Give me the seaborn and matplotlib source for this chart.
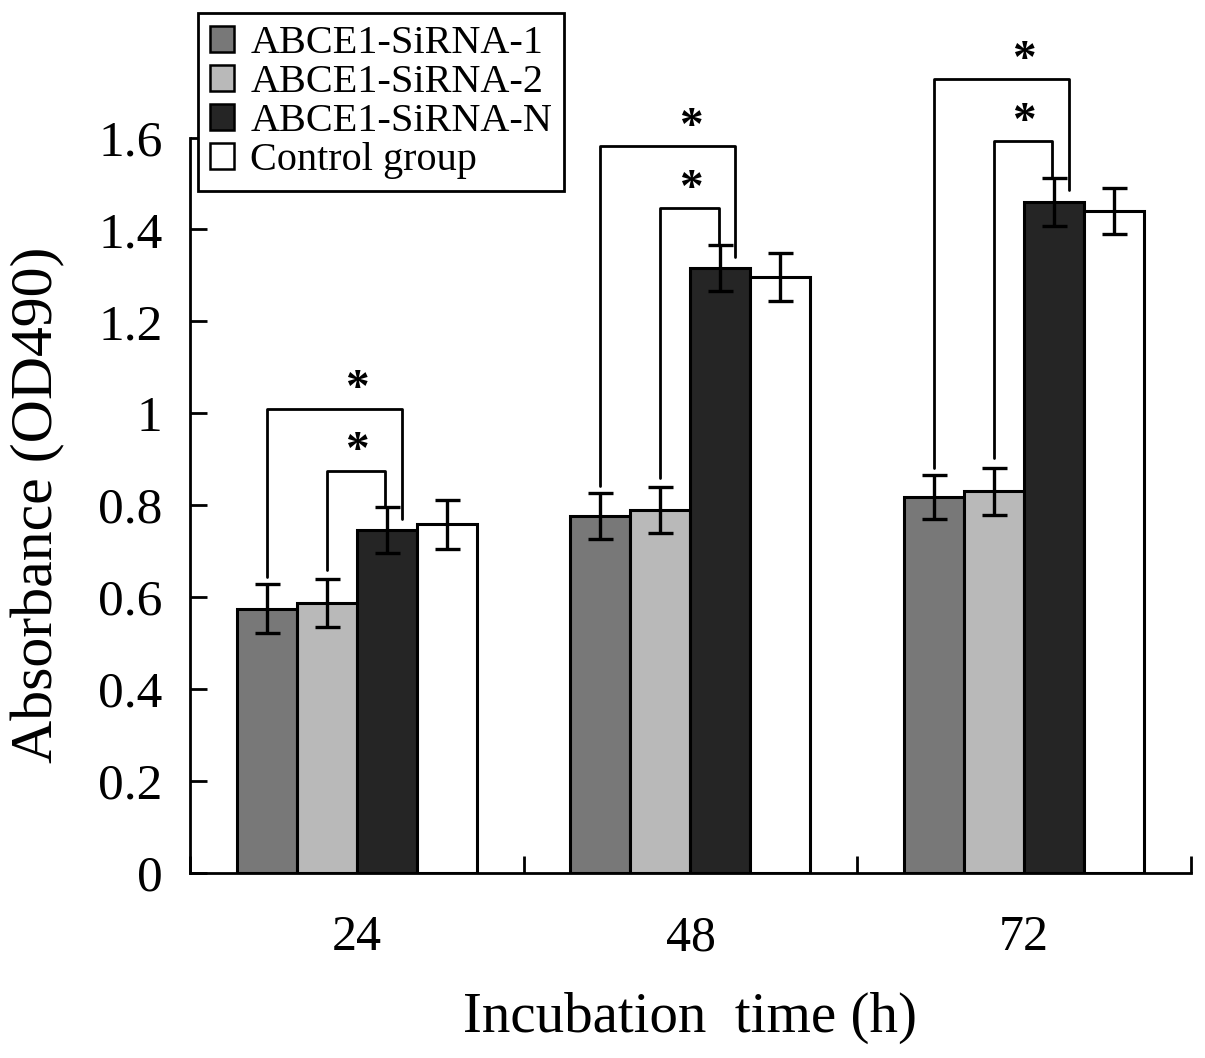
import matplotlib
matplotlib.use('Agg')
import matplotlib.pyplot as plt
from matplotlib.patches import Patch
from matplotlib.ticker import FuncFormatter
import seaborn as sns
import pandas as pd

# Andmed (loetud pildilt)
times = ['24', '48', '72']
groups = ['ABCE1-SiRNA-1', 'ABCE1-SiRNA-2', 'ABCE1-SiRNA-N', 'Control group']
sirna1 = [0.575, 0.777, 0.818]
sirna2 = [0.588, 0.790, 0.830]
sirna_n = [0.745, 1.316, 1.460]
control = [0.758, 1.296, 1.441]
sirna1_err = [0.053, 0.050, 0.048]
sirna2_err = [0.052, 0.050, 0.052]
sirna_n_err = [0.050, 0.050, 0.052]
control_err = [0.053, 0.052, 0.050]
colors = ['#787878', '#b9b9b9', '#252525', '#ffffff']

values = [sirna1, sirna2, sirna_n, control]
errors = [sirna1_err, sirna2_err, sirna_n_err, control_err]

rows = []
for g, vals in zip(groups, values):
    for t, v in zip(times, vals):
        rows.append({'time': t, 'group': g, 'od': v})
df = pd.DataFrame(rows)

sns.set_style('ticks')
plt.rcParams['font.family'] = ['Liberation Serif', 'DejaVu Serif']
plt.rcParams['text.color'] = 'black'
plt.rcParams['axes.labelcolor'] = 'black'
plt.rcParams['xtick.color'] = 'black'
plt.rcParams['ytick.color'] = 'black'

fig = plt.figure(figsize=(12.05, 10.58), dpi=100)
ax = fig.add_axes([0.158, 0.175, 0.830, 0.695])

sns.barplot(data=df, x='time', y='od', hue='group', hue_order=groups,
            order=times, palette=colors, saturation=1, width=0.72,
            edgecolor='black', linewidth=2.2, errorbar=None, legend=False, ax=ax)

# veapiirid
centers = []
for cont, errs in zip(ax.containers, errors):
    xs = [b.get_x() + b.get_width() / 2 for b in cont]
    hs = [b.get_height() for b in cont]
    ax.errorbar(xs, hs, yerr=errs, fmt='none', ecolor='black',
                elinewidth=2.4, capsize=9, capthick=2.4, zorder=5)
    centers.append((xs, hs, cont[0].get_width()))

# tärnid ja sulud
lw = 2.0
for i in range(len(times)):
    x1, x2, x3 = centers[0][0][i], centers[1][0][i], centers[2][0][i]
    bw = centers[2][2]
    top1 = sirna1[i] + sirna1_err[i]
    top2 = sirna2[i] + sirna2_err[i]
    top3 = sirna_n[i] + sirna_n_err[i]
    outer = top3 + 0.215
    inner = top3 + 0.08
    ax.plot([x1, x1, x3 + 0.25 * bw, x3 + 0.25 * bw],
            [top1 + 0.015, outer, outer, sirna_n[i] + 0.5 * sirna_n_err[i]],
            color='black', lw=lw, clip_on=False, zorder=6)
    ax.plot([x2, x2, x3 - 0.03 * bw, x3 - 0.03 * bw],
            [top2 + 0.02, inner, inner, top3],
            color='black', lw=lw, clip_on=False, zorder=6)
    ax.text(i, outer + 0.04, '*', ha='center', va='center', fontsize=34,
            fontweight='bold', clip_on=False)
    ax.text(i, inner + 0.04, '*', ha='center', va='center', fontsize=34,
            fontweight='bold', clip_on=False)

ax.set_ylim(0, 1.6)
ax.set_xlim(-0.5, 2.5)
ax.set_yticks([0, 0.2, 0.4, 0.6, 0.8, 1.0, 1.2, 1.4, 1.6])
ax.yaxis.set_major_formatter(FuncFormatter(lambda v, p: '%g' % v))
ax.set_xticks([-0.5, 0.5, 1.5, 2.5], minor=True)
ax.tick_params(axis='x', which='major', length=0, pad=30, labelsize=36)
ax.tick_params(axis='x', which='minor', direction='in', length=12, width=2)
ax.tick_params(axis='y', direction='in', length=12, width=2, pad=20,
               labelsize=37)

sns.despine(ax=ax)
ax.spines['left'].set_linewidth(2)
ax.spines['bottom'].set_linewidth(2)
ax.spines['left'].set_color('black')
ax.spines['bottom'].set_color('black')

ax.set_xlabel('Incubation  time (h)', fontsize=41, labelpad=22)
ax.set_ylabel('Absorbance (OD490)', fontsize=43, labelpad=24)

handles = [Patch(facecolor=c, edgecolor='black', linewidth=1.8) for c in colors]
leg = fig.legend(handles, groups, loc='upper left',
                 bbox_to_anchor=(198 / 1205, 1 - 13 / 1058),
                 fontsize=29, frameon=True, fancybox=False, framealpha=1,
                 edgecolor='black', handlelength=0.6, handleheight=0.6,
                 handletextpad=0.4, labelspacing=0.05, borderpad=0.3,
                 borderaxespad=0)
leg.get_frame().set_linewidth(2)

fig.savefig('out.png', dpi=100)
